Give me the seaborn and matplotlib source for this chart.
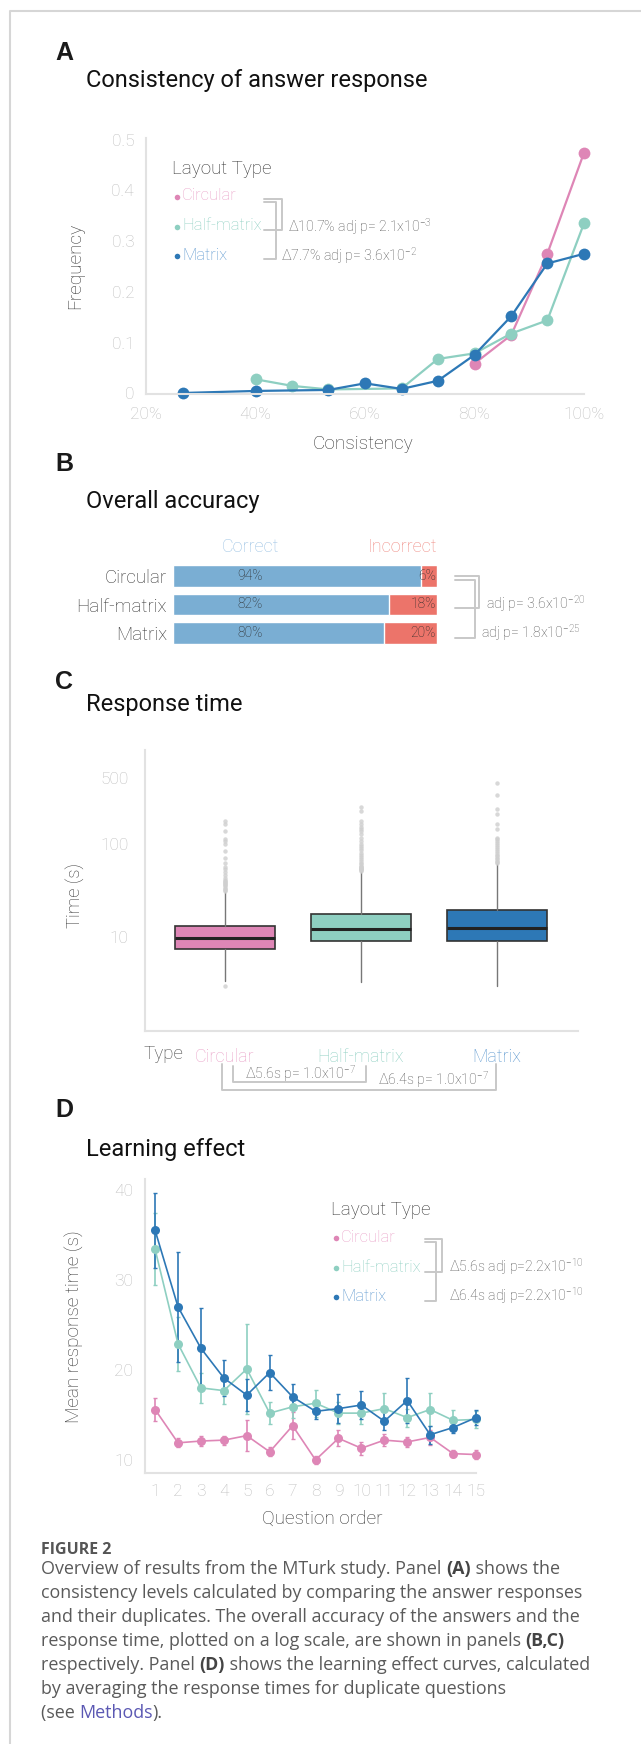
"""
Figure 2 - MTurk study overview:
  (A) consistency of answers, (B) overall accuracy,
  (C) response time (log scale), (D) learning effect.
"""
import matplotlib
matplotlib.use("Agg")
import matplotlib.pyplot as plt
from matplotlib.font_manager import FontProperties
import numpy as np
import pandas as pd
import seaborn as sns

# ─────────────────────────────────────────────────────────────────────────────
LAYOUTS = ["Circular", "Half-matrix", "Matrix"]

# (A) consistency (%) -> frequency
CIRC_CONS = [80.0, 86.7, 93.3, 100.0]
CIRC_FREQ = [0.059, 0.115, 0.275, 0.474]
HALF_CONS = [40.0, 46.7, 53.3, 66.7, 73.3, 80.0, 86.7, 93.3, 100.0]
HALF_FREQ = [0.028, 0.015, 0.008, 0.010, 0.068, 0.079, 0.118, 0.144, 0.335]
MAT_CONS = [26.7, 40.0, 53.3, 60.0, 66.7, 73.3, 80.0, 86.7, 93.3, 100.0]
MAT_FREQ = [0.001, 0.005, 0.007, 0.020, 0.009, 0.025, 0.076, 0.152, 0.256, 0.275]

# (B) overall accuracy (%)
CORRECT = [94, 82, 80]
INCORRECT = [6, 18, 20]

# (C) response time box summaries (s)
RT_MED = [9.75, 12.3, 12.5]
RT_Q1 = [7.5, 9.05, 9.05]
RT_Q3 = [13.2, 17.9, 19.4]
RT_LO = [3.4, 3.35, 3.0]
RT_HI = [30.7, 50.6, 60.7]
RT_FLIERS = [
    [3.0, 31, 32, 33, 34, 35, 36, 37, 38, 39, 40, 41, 43, 46, 50, 53, 57, 62,
     70, 83, 98, 107, 112, 137, 162, 176],
    [51, 52, 53, 54, 55, 56, 57, 58, 60, 62, 65, 68, 72, 76, 80, 85, 90, 95,
     100, 108, 116, 126, 135, 143, 152, 162, 176, 225, 245],
    [62, 64, 66, 68, 70, 73, 76, 80, 84, 88, 92, 97, 102, 107, 112, 116, 143,
     162, 208, 235, 327, 445],
]

# (D) mean response time per question order (s) with error
QUESTION = list(range(1, 16))
CIRC_RT = [15.6, 11.9, 12.1, 12.2, 12.7, 10.9, 13.8, 10.0, 12.4, 11.3, 12.2, 12.0, 12.5, 10.7, 10.6]
CIRC_ERR = [1.3, 0.5, 0.6, 0.5, 1.7, 0.5, 1.5, 0.4, 0.9, 0.7, 0.7, 0.6, 0.8, 0.4, 0.5]
HALF_RT = [33.4, 22.9, 18.0, 17.7, 20.1, 15.2, 15.9, 16.3, 15.2, 15.2, 15.7, 14.7, 15.6, 14.4, 14.5]
HALF_ERR = [4.0, 3.0, 1.7, 1.5, 5.0, 1.2, 1.2, 1.5, 1.2, 1.2, 1.7, 1.0, 1.8, 1.1, 0.9]
MAT_RT = [35.5, 27.0, 22.4, 19.1, 17.2, 19.7, 17.0, 15.4, 15.7, 16.1, 14.3, 16.6, 12.8, 13.6, 14.7]
MAT_ERR = [4.2, 6.1, 4.5, 2.0, 1.8, 1.9, 1.4, 0.9, 1.6, 1.6, 1.0, 2.5, 1.0, 0.6, 0.8]

# ─────────────────────────────────────────────────────────────────────────────
PAL = {"Circular": "#de86b6", "Half-matrix": "#8ecfc1", "Matrix": "#2d78b6"}
PAL_TXT = {"Circular": "#eaa3c9", "Half-matrix": "#90d0c3", "Matrix": "#5b97cf"}
BAR_OK, BAR_BAD = "#7aaed3", "#ec746a"
SPINE, TICK_TXT, BRK = "#e2e2e2", "#bdbdbd", "#c8c8c8"
LABEL_SIZE = 13.2

W, H = 641, 1744

sns.set_theme(style="white")
plt.rcParams["font.family"] = ["Roboto", "DejaVu Sans"]
plt.rcParams["mathtext.fontset"] = "custom"
plt.rcParams["mathtext.rm"] = "Roboto"
plt.rcParams["mathtext.default"] = "regular"

fig = plt.figure(figsize=(W / 100, H / 100), dpi=100)
fig.patch.set_facecolor("white")


def place(l, t, r, b):
    return fig.add_axes([l / W, 1 - b / H, (r - l) / W, (b - t) / H])


def style(ax):
    sns.despine(ax=ax)
    for s in ("left", "bottom"):
        ax.spines[s].set_color(SPINE)
        ax.spines[s].set_linewidth(1.5)
    ax.tick_params(which="both", color=SPINE, length=5, width=1,
                   labelcolor=TICK_TXT, labelsize=12.5, direction="out")
    for t in ax.get_xticklabels() + ax.get_yticklabels():
        t.set_fontweight("light")
    ax.grid(False)


# overlay in pixel coordinates for annotations
ov = fig.add_axes([0, 0, 1, 1], zorder=10)
ov.set_xlim(0, W)
ov.set_ylim(H, 0)
ov.axis("off")
ov.patch.set_alpha(0)

# page border
ov.plot([9.5, 9.5, W], [H, 11.5, 11.5], color="#d6d6d6", lw=1.5)


def header(letter, y_letter, title, y_title):
    ov.text(55, y_letter, letter, fontsize=18, fontweight="bold", color="#1a1a1a",
            family=["Liberation Sans", "DejaVu Sans"], va="center", ha="left")
    ov.text(86, y_title, title, fontsize=17, color="#111111", va="center", ha="left")


def legend_block(x, y_title, ys):
    ov.text(x, y_title, "Layout Type", fontsize=13.5, fontweight="light",
            color="#333333", va="center")
    for lay, y in zip(LAYOUTS, ys):
        ov.plot([x + 5], [y + 1], "o", ms=4, color=PAL[lay], mew=0)
        ov.text(x + 10, y, lay, fontsize=12, fontweight="light",
                color=PAL_TXT[lay], va="center")


def side_bracket(x0, x1, y0, y1):
    ov.plot([x0, x1, x1, x0], [y0, y0, y1, y1], color=BRK, lw=1.4)


def note(x, y, s, ha="left", size=10.2):
    ov.text(x, y, s, fontsize=size, fontweight="light", color="#555555",
            va="center", ha=ha)


# ── (A) Consistency ──────────────────────────────────────────────────────────
header("A", 53, "Consistency of answer response", 80)
dfA = pd.concat([
    pd.DataFrame({"consistency": CIRC_CONS, "frequency": CIRC_FREQ, "layout": "Circular"}),
    pd.DataFrame({"consistency": HALF_CONS, "frequency": HALF_FREQ, "layout": "Half-matrix"}),
    pd.DataFrame({"consistency": MAT_CONS, "frequency": MAT_FREQ, "layout": "Matrix"}),
])
axA = place(146, 138, 584, 394)
sns.lineplot(data=dfA, x="consistency", y="frequency", hue="layout",
             hue_order=LAYOUTS, palette=PAL, marker="o", markersize=8.5,
             markeredgewidth=0, linewidth=1.6, legend=False, ax=axA)
for l in axA.lines:
    l.set_clip_on(False)
axA.set_xlim(20, 100)
axA.set_ylim(-0.001, 0.503)
axA.set_xticks([20, 40, 60, 80, 100])
axA.set_xticklabels([f"{v}%" for v in [20, 40, 60, 80, 100]])
axA.set_xticks([30, 50, 70, 90], minor=True)
axA.set_yticks([0, 0.1, 0.2, 0.3, 0.4, 0.5])
axA.set_yticklabels(["0", "0.1", "0.2", "0.3", "0.4", "0.5"])
style(axA)
axA.tick_params(axis="x", pad=4)
axA.set_xlabel("Consistency", fontsize=LABEL_SIZE + 0.5, fontweight="light", color="#333333")
axA.set_ylabel("Frequency", fontsize=LABEL_SIZE + 0.5, fontweight="light", color="#333333")
axA.xaxis.set_label_coords(0.495, -0.16)
axA.yaxis.set_label_coords(-0.142, 0.5)

legend_block(172, 169, [196, 226, 255])
side_bracket(264, 282, 199, 230)
side_bracket(264, 276, 202, 259)
note(288, 227, r"Δ10.7% adj p= 2.1x10$^{-3}$")
note(281, 256, r"Δ7.7% adj p= 3.6x10$^{-2}$")

# ── (B) Overall accuracy ─────────────────────────────────────────────────────
header("B", 464, "Overall accuracy", 501)
totals = list(np.add(CORRECT, INCORRECT))
axB = place(173, 561.75, 437, 647.25)
sns.barplot(x=totals, y=LAYOUTS, color=BAR_BAD, orient="h", width=0.77,
            saturation=1, ax=axB)
sns.barplot(x=CORRECT, y=LAYOUTS, color=BAR_OK, orient="h", width=0.77,
            saturation=1, ax=axB)
axB.set_xlim(0, 100)
axB.set_ylim(2.5, -0.5)
sns.despine(ax=axB, left=True, bottom=True)
axB.set_xticks([])
axB.set_xlabel("")
axB.set_ylabel("")
axB.tick_params(axis="y", length=0, pad=4.5, labelsize=13.5, labelcolor="#333333")
for t in axB.get_yticklabels():
    t.set_fontweight("light")
for i, (c, w) in enumerate(zip(CORRECT, INCORRECT)):
    axB.text(29.2, i, f"{c}%", ha="center", va="center", fontsize=10,
             fontweight="light", color="#2a2a2a")
    axB.text(99.6, i, f"{w}%", ha="right", va="center", fontsize=10,
             fontweight="light", color="#2a2a2a")
axB.text(29.2, -1.02, "Correct", ha="center", va="center", fontsize=13,
         fontweight="light", color="#9cc3e4", clip_on=False)
axB.text(100, -1.02, "Incorrect", ha="right", va="center", fontsize=13,
         fontweight="light", color="#ef8c84", clip_on=False)

side_bracket(455, 479, 576, 608)
side_bracket(455, 475, 580, 638)
note(486, 604, r"adj p= 3.6x10$^{-20}$")
note(481, 633, r"adj p= 1.8x10$^{-25}$")

# ── (C) Response time ────────────────────────────────────────────────────────
header("C", 682, "Response time", 704)
axC = place(145, 750, 578, 1031)
stats = []
for i, lay in enumerate(LAYOUTS):
    stats.append(dict(label=lay, med=RT_MED[i], q1=RT_Q1[i], q3=RT_Q3[i],
                      whislo=RT_LO[i], whishi=RT_HI[i], fliers=RT_FLIERS[i]))
bp = axC.bxp(stats, positions=[0, 1, 2], widths=0.74, patch_artist=True,
             showcaps=False,
             boxprops=dict(edgecolor="#333333", linewidth=1.2),
             medianprops=dict(color="#222222", linewidth=2.2),
             whiskerprops=dict(color="#777777", linewidth=1.0),
             flierprops=dict(marker="o", markersize=3.2, markerfacecolor="#cfcfcf",
                             markeredgewidth=0, alpha=0.8))
for patch, lay in zip(bp["boxes"], LAYOUTS):
    patch.set_facecolor(PAL[lay])
axC.set_yscale("log")
axC.set_ylim(1, 1000)
axC.set_xlim(-0.588, 2.596)
axC.set_yticks([10, 100, 500])
axC.set_yticklabels(["10", "100", "500"])
axC.yaxis.set_minor_locator(matplotlib.ticker.NullLocator())
axC.set_xticks([0, 1, 2])
axC.set_xticklabels(LAYOUTS)
style(axC)
axC.tick_params(axis="y", pad=7)
axC.tick_params(axis="x", length=9, pad=3, labelsize=13)
for t, lay in zip(axC.get_xticklabels(), LAYOUTS):
    t.set_color(PAL_TXT[lay])
axC.set_ylabel("Time (s)", fontsize=LABEL_SIZE, fontweight="light", color="#333333")
axC.yaxis.set_label_coords(-0.141, 0.484)
ov.text(163, 1054, "Type", fontsize=13.5, fontweight="light", color="#444444",
        va="center", ha="center")

ov.plot([233, 233, 366, 366], [1066, 1082, 1082, 1066], color=BRK, lw=1.4)
ov.plot([222, 222, 496, 496], [1064, 1090, 1090, 1064], color=BRK, lw=1.4)
note(300, 1074, r"Δ5.6s p= 1.0x10$^{-7}$", ha="center")
note(433, 1080, r"Δ6.4s p= 1.0x10$^{-7}$", ha="center")

# ── (D) Learning effect ──────────────────────────────────────────────────────
header("D", 1110, "Learning effect", 1149)
dfD = pd.concat([
    pd.DataFrame({"order": QUESTION, "rt": CIRC_RT, "err": CIRC_ERR, "layout": "Circular"}),
    pd.DataFrame({"order": QUESTION, "rt": HALF_RT, "err": HALF_ERR, "layout": "Half-matrix"}),
    pd.DataFrame({"order": QUESTION, "rt": MAT_RT, "err": MAT_ERR, "layout": "Matrix"}),
])
axD = place(145, 1179, 476, 1473)
for lay in LAYOUTS:
    sub = dfD[dfD["layout"] == lay]
    axD.errorbar(sub["order"], sub["rt"], yerr=sub["err"], fmt="none",
                 ecolor=PAL[lay], elinewidth=1.2, capsize=1.5, capthick=1,
                 clip_on=False)
sns.lineplot(data=dfD, x="order", y="rt", hue="layout", hue_order=LAYOUTS,
             palette=PAL, marker="o", markersize=6.5, markeredgewidth=0,
             linewidth=1.2, legend=False, ax=axD)
for l in axD.lines:
    l.set_clip_on(False)
axD.set_xlim(0.56, 15.0)
axD.set_ylim(8.55, 41.2)
axD.set_xticks(QUESTION)
axD.set_yticks([10, 20, 30, 40])
axD.set_yticks([15, 25, 35], minor=True)
style(axD)
axD.tick_params(axis="x", pad=3, labelsize=12.5)
axD.set_xlabel("Question order", fontsize=LABEL_SIZE + 0.5, fontweight="light",
               color="#333333")
axD.set_ylabel("Mean response time (s)", fontsize=LABEL_SIZE + 0.5,
               fontweight="light", color="#333333")
axD.xaxis.set_label_coords(0.535, -0.126)
axD.yaxis.set_label_coords(-0.184, 0.497)

legend_block(331, 1210, [1237, 1267, 1296])
side_bracket(425, 442, 1239, 1272)
side_bracket(425, 436, 1242, 1301)
note(449, 1267, r"Δ5.6s adj p=2.2x10$^{-10}$")
note(449, 1296, r"Δ6.4s adj p=2.2x10$^{-10}$")

# ── Caption ──────────────────────────────────────────────────────────────────
CAP_FONT = ["Open Sans", "DejaVu Sans"]
CAP_SIZE = 12.9
CAP_GREY = "#5a5a5a"
renderer = fig.canvas.get_renderer()


def advance(s, weight):
    prop = FontProperties(family=CAP_FONT, weight=weight, size=CAP_SIZE)
    w1 = renderer.get_text_width_height_descent("X" + s + "X", prop, False)[0]
    w0 = renderer.get_text_width_height_descent("XX", prop, False)[0]
    return w1 - w0


def caption_line(y, parts):
    x = 41
    for s, weight, color in parts:
        ov.text(x, y, s, fontsize=CAP_SIZE, family=CAP_FONT, fontweight=weight,
                color=color, va="center", ha="left")
        x += advance(s, weight)


ov.text(41, 1550, "FIGURE 2", fontsize=11.5, family=CAP_FONT, fontweight="bold",
        color="#555555", va="center")
N, B = "normal", "bold"
lines = [
    [("Overview of results from the MTurk study. Panel ", N, CAP_GREY),
     ("(A)", B, "#444444"), (" shows the", N, CAP_GREY)],
    [("consistency levels calculated by comparing the answer responses", N, CAP_GREY)],
    [("and their duplicates. The overall accuracy of the answers and the", N, CAP_GREY)],
    [("response time, plotted on a log scale, are shown in panels ", N, CAP_GREY),
     ("(B,C)", B, "#444444")],
    [("respectively. Panel ", N, CAP_GREY), ("(D)", B, "#444444"),
     (" shows the learning effect curves, calculated", N, CAP_GREY)],
    [("by averaging the response times for duplicate questions", N, CAP_GREY)],
    [("(see ", N, CAP_GREY), ("Methods", N, "#5b58b3"), (").", N, CAP_GREY)],
]
for k, parts in enumerate(lines):
    caption_line(1569 + 24 * k, parts)

fig.savefig("out.png", dpi=100)
plt.close(fig)
